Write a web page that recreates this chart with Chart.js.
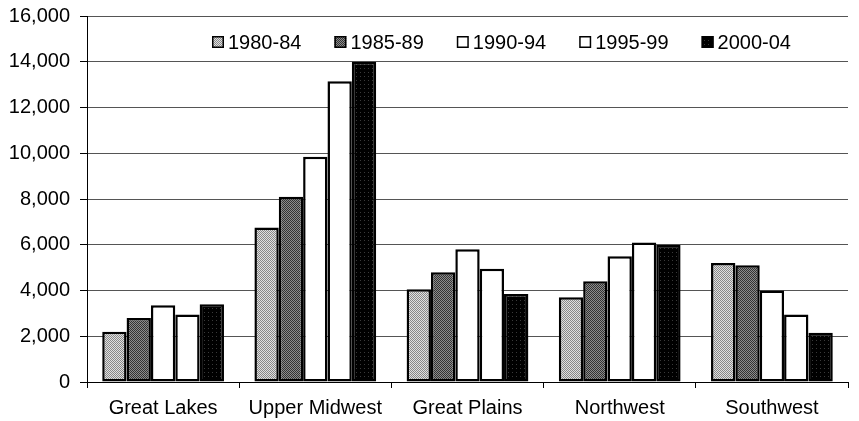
<!DOCTYPE html>
<html>
<head>
<meta charset="utf-8">
<script src="https://cdn.jsdelivr.net/npm/chart.js@4"></script>
<style>
  html, body { margin: 0; padding: 0; background: #fff; }
</style>
</head>
<body>
<canvas id="myChart" width="859" height="421"></canvas>
<script>
const regions = ['Great Lakes', 'Upper Midwest', 'Great Plains', 'Northwest', 'Southwest'];
const periods = ['1980-84', '1985-89', '1990-94', '1995-99', '2000-04'];
const v1980 = [2200, 6750, 4050, 3700, 5200];
const v1985 = [2800, 8100, 4800, 4400, 5100];
const v1990 = [3350, 9850, 5800, 5500, 4000];
const v1995 = [2950, 13150, 4950, 6100, 2950];
const v2000 = [3400, 14000, 3850, 6000, 2150];
const yTicks = [0, 2000, 4000, 6000, 8000, 10000, 12000, 14000, 16000];

const FONT = '"Liberation Sans", Arial, sans-serif';

// small dither patterns like the scanned print
function dither(base, dot, every) {
    const p = document.createElement('canvas');
    p.width = 4; p.height = 4;
    const g = p.getContext('2d');
    g.fillStyle = base;
    g.fillRect(0, 0, 4, 4);
    g.fillStyle = dot;
    for (let y = 0; y < 4; y++) {
        for (let x = 0; x < 4; x++) {
            if ((x + y) % every == 0) g.fillRect(x, y, 1, 1);
        }
    }
    return document.getElementById('myChart').getContext('2d').createPattern(p, 'repeat');
}

const fills = [
    dither('#e0e0e0', '#888888', 2),
    dither('#8c8c8c', '#333333', 2),
    '#ffffff',
    '#ffffff',
    dither('#000000', '#3a3a3a', 9)
];
const series = [v1980, v1985, v1990, v1995, v2000];

const boxLegend = {
    id: 'boxLegend',
    afterDraw(chart) {
        const c = chart.ctx;
        c.save();
        c.font = '20px ' + FONT;
        c.textBaseline = 'middle';
        let x = 212;
        const y = 42;
        chart.data.datasets.forEach(ds => {
            c.fillStyle = ds.backgroundColor;
            c.fillRect(x, y - 6, 12, 12);
            c.lineWidth = 1.5;
            c.strokeStyle = '#000';
            c.strokeRect(x + 0.75, y - 5.25, 10.5, 10.5);
            c.fillStyle = '#000';
            c.fillText(ds.label, x + 16, y + 1);
            x += 16 + c.measureText(ds.label).width + 33;
        });
        c.restore();
    }
};

new Chart(document.getElementById('myChart'), {
    type: 'bar',
    data: {
        labels: regions,
        datasets: periods.map((p, i) => ({
            label: p,
            data: series[i],
            backgroundColor: fills[i],
            borderColor: '#000',
            borderWidth: 2.5,
            borderSkipped: false,
            categoryPercentage: 0.8,
            barPercentage: 1.0
        }))
    },
    options: {
        responsive: false,
        animation: false,
        layout: { padding: { left: 0, right: 11, top: 16, bottom: 0 } },
        plugins: {
            legend: { display: false },
            tooltip: { enabled: false }
        },
        scales: {
            x: {
                afterFit: s => { s.height = 39; s.paddingLeft = 0; s.paddingRight = 0; },
                grid: { drawOnChartArea: false, drawTicks: true, tickLength: 6, tickColor: '#000' },
                border: { color: '#000', width: 1 },
                ticks: { color: '#000', font: { family: FONT, size: 20 }, padding: 8 }
            },
            y: {
                min: 0,
                max: 16000,
                afterFit: s => { s.width = 87; s.paddingTop = 0; s.paddingBottom = 0; },
                afterBuildTicks: s => { s.ticks = yTicks.map(v => ({ value: v })); },
                grid: { color: '#555', lineWidth: 1, tickLength: 7, tickColor: '#000' },
                border: { color: '#000', width: 1 },
                ticks: {
                    color: '#000',
                    padding: 10,
                    font: { family: FONT, size: 20 },
                    callback: v => v.toLocaleString('en-US')
                }
            }
        }
    },
    plugins: [boxLegend]
});
</script>
</body>
</html>
